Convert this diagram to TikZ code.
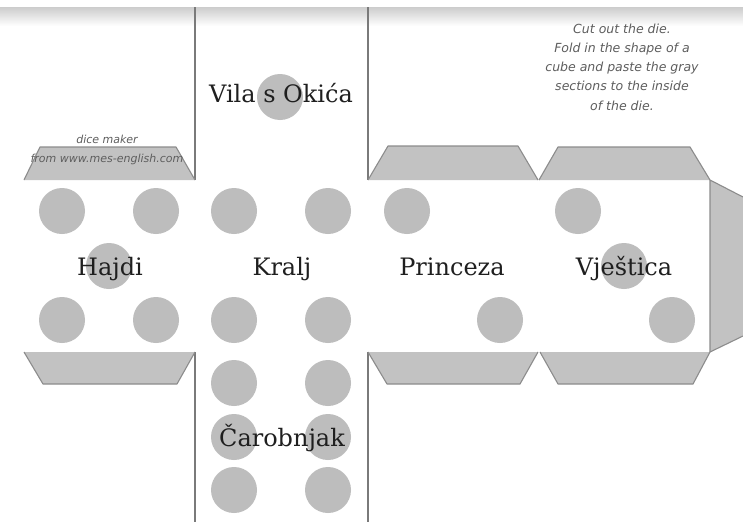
\documentclass[tikz,border=0pt]{standalone}
\usepackage{fontspec}
\setmainfont{DejaVu Serif}
\newfontfamily\handfont{DejaVu Sans}
\definecolor{pipgray}{HTML}{BDBDBD}
\definecolor{flapgray}{HTML}{C2C2C2}
\definecolor{edgegray}{HTML}{8C8C8C}
\definecolor{linegray}{HTML}{7A7A7A}
\definecolor{inkgray}{HTML}{5E5E5E}
\tikzset{
  pip/.style={circle, fill=pipgray, draw=none, minimum size=46pt, inner sep=0pt},
  facelabel/.style={anchor=base, inner sep=0pt, text=black!88, font=\fontsize{24}{28}\selectfont},
  flap/.style={fill=flapgray, draw=none},
  flapedge/.style={draw=edgegray, line width=1.1pt, line join=round},
  cutline/.style={draw=linegray, line width=1.1pt},
  hand/.style={text=inkgray, inner sep=0pt, font=\handfont\itshape\fontsize{12.5}{19.3}\selectfont, align=center},
  handsmall/.style={text=inkgray, inner sep=0pt, font=\handfont\itshape\fontsize{11}{19}\selectfont, align=center}
}
\begin{document}
\begin{tikzpicture}[x=1pt,y=-1pt]
\useasboundingbox (0,0) rectangle (743,522);
\fill[white] (0,0) rectangle (743,522);
\shade[top color=gray!40, bottom color=white] (0,7) rectangle (743,26);
% cut lines
\draw[cutline] (195,7) -- (195,180);
\draw[cutline] (368,7) -- (368,180);
\draw[cutline] (195,352) -- (195,522);
\draw[cutline] (368,352) -- (368,522);
% top flaps
\fill[flap] (24,180) -- (40,147) -- (176,147) -- (195,180) -- cycle;
\draw[flapedge] (24,180) -- (40,147) -- (176,147) -- (195,180);
\fill[flap] (368,180) -- (388,146) -- (518,146) -- (538,180) -- cycle;
\draw[flapedge] (368,180) -- (388,146) -- (518,146) -- (538,180);
\fill[flap] (539,180) -- (558,147) -- (690,147) -- (710,180) -- cycle;
\draw[flapedge] (539,180) -- (558,147) -- (690,147) -- (710,180);
% bottom flaps
\fill[flap] (24,352) -- (43,384) -- (177,384) -- (195,352) -- cycle;
\draw[flapedge] (24,352) -- (43,384) -- (177,384) -- (195,352);
\fill[flap] (368,352) -- (387,384) -- (520,384) -- (538,352) -- cycle;
\draw[flapedge] (368,352) -- (387,384) -- (520,384) -- (538,352);
\fill[flap] (540,352) -- (558,384) -- (693,384) -- (710,352) -- cycle;
\draw[flapedge] (540,352) -- (558,384) -- (693,384) -- (710,352);
% right tab
\fill[flap] (710,180) -- (743,197) -- (743,336) -- (710,352) -- cycle;
\draw[flapedge] (710,352) -- (710,180) -- (743,197);
\draw[flapedge] (743,336) -- (710,352);
% pips
\node[pip] (h1) at (62,211) {};
\node[pip] (h2) at (156,211) {};
\node[pip] (h3) at (109,266) {};
\node[pip] (h4) at (62,320) {};
\node[pip] (h5) at (156,320) {};
\node[pip] (k1) at (234,211) {};
\node[pip] (k2) at (328,211) {};
\node[pip] (k3) at (234,320) {};
\node[pip] (k4) at (328,320) {};
\node[pip] (v1) at (280,97) {};
\node[pip] (c1) at (234,383) {};
\node[pip] (c2) at (328,383) {};
\node[pip] (c3) at (234,437) {};
\node[pip] (c4) at (328,437) {};
\node[pip] (c5) at (234,490) {};
\node[pip] (c6) at (328,490) {};
\node[pip] (p1) at (407,211) {};
\node[pip] (p2) at (500,320) {};
\node[pip] (w1) at (578,211) {};
\node[pip] (w2) at (624,266) {};
\node[pip] (w3) at (672,320) {};
% labels
\node[facelabel] (lvila) at (281,102) {Vila s Okića};
\node[facelabel] (lhajdi) at (110,275) {Hajdi};
\node[facelabel] (lkralj) at (282,275) {Kralj};
\node[facelabel] (lprinc) at (452,275) {Princeza};
\node[facelabel] (lvjes) at (624,275) {Vještica};
\node[facelabel] (lcar) at (282,446) {Čarobnjak};
% handwritten notes
\node[hand] (note) at (622,67) {Cut out the die.\\Fold in the shape of a\\cube and paste the gray\\sections to the inside\\of the die.};
\node[handsmall] (maker) at (107,150) {dice maker\\from www.mes-english.com};
\end{tikzpicture}
\end{document}
